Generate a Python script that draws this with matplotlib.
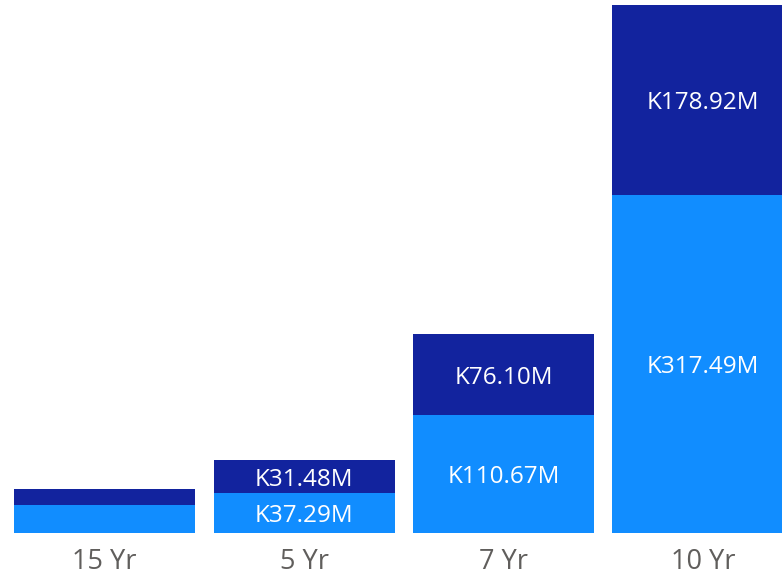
import matplotlib
matplotlib.use('Agg')
import matplotlib.pyplot as plt

categories = ['15 Yr', '5 Yr', '7 Yr', '10 Yr']
lower_vals = [26.05, 37.29, 110.67, 317.49]
upper_vals = [15.1, 31.48, 76.10, 178.92]
lower_labels = ['', 'K37.29M', 'K110.67M', 'K317.49M']
upper_labels = ['', 'K31.48M', 'K76.10M', 'K178.92M']

plt.rcParams['font.family'] = ['Open Sans', 'DejaVu Sans']

fig = plt.figure(figsize=(7.82, 5.75), dpi=100)
ax = fig.add_axes([0, 42/575, 1, 533/575])

x = list(range(len(categories)))
w = 181/199.5
ax.bar(x, lower_vals, width=w, color='#118DFF')
ax.bar(x, upper_vals, width=w, bottom=lower_vals, color='#12239E')

for i in x:
    if lower_labels[i]:
        ax.text(i, lower_vals[i]/2, lower_labels[i], ha='center', va='center_baseline',
                color='white', fontsize=17.5)
    if upper_labels[i]:
        ax.text(i, lower_vals[i] + upper_vals[i]/2, upper_labels[i], ha='center',
                va='center_baseline', color='white', fontsize=17.5)

ax.set_xlim(-104.5/199.5, (782-104.5)/199.5)
ax.set_ylim(0, 533/1.0636)
ax.set_xticks(x)
ax.set_xticklabels(categories, fontsize=19.5, color='#605E5C')
ax.tick_params(axis='x', length=0, pad=11)
ax.set_yticks([])
for s in ax.spines.values():
    s.set_visible(False)

fig.savefig('out.png', dpi=100)
